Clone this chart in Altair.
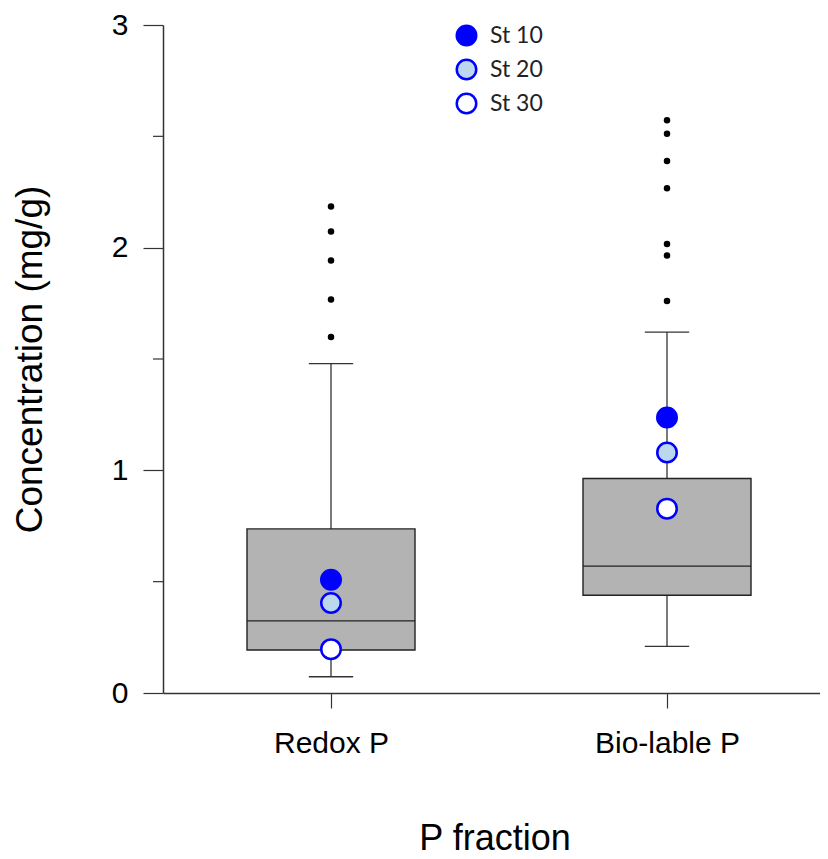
import altair as alt
import pandas as pd

# ---- data ----
categories = ["Redox P", "Bio-lable P"]
positions = [0.5, 1.5]
whisker_low = [0.073, 0.209]
q1 = [0.193, 0.439]
median = [0.324, 0.570]
q3 = [0.737, 0.963]
whisker_high = [1.479, 1.621]
outliers_redox = [1.599, 1.767, 1.942, 2.073, 2.185]
outliers_bio = [1.760, 1.965, 2.016, 2.267, 2.389, 2.512, 2.572]
stations = ["St 10", "St 20", "St 30"]
station_redox = [0.509, 0.404, 0.197]
station_bio = [1.237, 1.080, 0.828]
minor_ticks = [0.5, 1.5, 2.5]

HALF_BOX = 0.25
HALF_CAP = 0.066
W, H = 657, 668
XMAX = W / 336.0

box_df = pd.DataFrame({
    "cat": categories, "pos": positions,
    "lo": whisker_low, "q1": q1, "med": median, "q3": q3, "hi": whisker_high,
})
box_df["left"] = box_df["pos"] - HALF_BOX
box_df["right"] = box_df["pos"] + HALF_BOX
box_df["capl"] = box_df["pos"] - HALF_CAP
box_df["capr"] = box_df["pos"] + HALF_CAP

out_df = pd.DataFrame({
    "pos": [positions[0]] * len(outliers_redox) + [positions[1]] * len(outliers_bio),
    "val": outliers_redox + outliers_bio,
})
st_df = pd.DataFrame({
    "pos": [positions[0]] * 3 + [positions[1]] * 3,
    "val": station_redox + station_bio,
    "station": stations + stations,
})
minor_df = pd.DataFrame({"val": minor_ticks})

AX = "#333333"
xscale = alt.Scale(domain=[0, XMAX], nice=False, zero=False)
yscale = alt.Scale(domain=[0, 3], nice=False)

xaxis = alt.Axis(
    values=positions,
    labelExpr="datum.value == 0.5 ? 'Redox P' : 'Bio-lable P'",
    title="P fraction", grid=False, tickSize=15, labelPadding=20,
    labelFont="Liberation Sans", labelFontSize=30, labelColor="#000",
    titleFont="Liberation Sans", titleFontSize=36, titleFontWeight="normal",
    titleColor="#000", titleX=W / 2 + 3, titleY=145, titleBaseline="middle",
    domainColor=AX, tickColor=AX, domainWidth=1.5, tickWidth=1.2,
)
yaxis = alt.Axis(
    values=[0, 1, 2, 3], format="d",
    title="Concentration (mg/g)", grid=False, tickSize=20, labelPadding=15,
    labelFont="Liberation Sans", labelFontSize=30, labelColor="#000",
    titleFont="Liberation Sans", titleFontSize=37, titleFontWeight="normal",
    titleColor="#000", titleX=-133, titleY=H / 2, titleAngle=-90,
    titleBaseline="middle", titleAlign="center",
    domainColor=AX, tickColor=AX, domainWidth=1.5, tickWidth=1.2,
)

def X(f):
    return alt.X(f, type="quantitative", scale=xscale, axis=xaxis)

def Y(f):
    return alt.Y(f, type="quantitative", scale=yscale, axis=yaxis)

base_box = alt.Chart(box_df)

whisker = base_box.mark_rule(color=AX, strokeWidth=1.3).encode(
    x=X("pos"), y=Y("lo"), y2="hi")
caps_lo = base_box.mark_rule(color=AX, strokeWidth=1.3).encode(
    x=X("capl"), x2="capr", y=Y("lo"))
caps_hi = base_box.mark_rule(color=AX, strokeWidth=1.3).encode(
    x=X("capl"), x2="capr", y=Y("hi"))
boxes = base_box.mark_rect(fill="#b3b3b3", stroke="#222222", strokeWidth=1.4).encode(
    x=X("left"), x2="right", y=Y("q1"), y2="q3")
med = base_box.mark_rule(color="#222222", strokeWidth=1.3).encode(
    x=X("left"), x2="right", y=Y("med"))

outs = alt.Chart(out_df).mark_circle(size=42, color="#000", opacity=1).encode(
    x=X("pos"), y=Y("val"))

minor = alt.Chart(minor_df).mark_rule(color=AX, strokeWidth=1.2, clip=False).encode(
    x=alt.value(-10), x2=alt.value(0), y=Y("val"))

pts = alt.Chart(st_df).mark_circle(
    size=380, stroke="#0000ff", strokeWidth=2.5, opacity=1, fillOpacity=1
).encode(
    x=X("pos"), y=Y("val"),
    fill=alt.Fill("station:N",
                  scale=alt.Scale(domain=stations, range=["#0000ff", "#bdd7ee", "#ffffff"]),
                  legend=alt.Legend(
                      title=None, orient="none", legendX=292, legendY=-1,
                      symbolType="circle", symbolSize=380,
                      symbolStrokeColor="#0000ff", symbolStrokeWidth=2.5,
                      labelFont="Lato", labelFontSize=23, labelColor="#222",
                      labelOffset=12, rowPadding=3,
                  )),
)

chart = alt.layer(whisker, boxes, med, caps_lo, caps_hi, outs, minor, pts).properties(
    width=W, height=H,
    background="white",
    autosize=alt.AutoSizeParams(type="none"),
    padding={"left": 155, "top": 17, "right": 0, "bottom": 166},
).configure_view(stroke=None)

chart.save("out.html", embed_options={"renderer": "svg", "actions": False})
